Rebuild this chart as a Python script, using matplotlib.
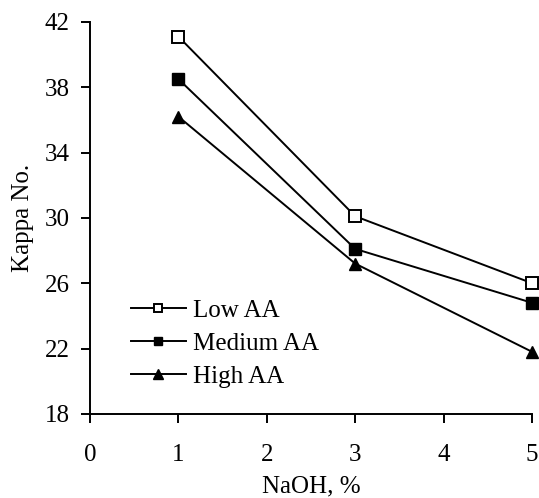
import matplotlib
matplotlib.use("Agg")
import matplotlib.pyplot as plt

naoh = [1, 3, 5]
low_aa = [41.1, 30.1, 26.0]
medium_aa = [38.5, 28.1, 24.8]
high_aa = [36.2, 27.2, 21.8]
labels = ["Low AA", "Medium AA", "High AA"]
xticks = [0, 1, 2, 3, 4, 5]
yticks = [18, 22, 26, 30, 34, 38, 42]

plt.rcParams['font.family'] = ['Liberation Serif', 'DejaVu Serif']
fig = plt.figure(figsize=(5.39, 4.98), dpi=100)
ax = fig.add_axes([0.167, 0.169, 0.82, 0.787])

lw = 1.4
ms = 8
ax.plot(naoh, low_aa, color='black', lw=lw, marker='s', ms=ms, mfc='white', mec='black', mew=1.4, label=labels[0], clip_on=False)
ax.plot(naoh, medium_aa, color='black', lw=lw, marker='s', ms=ms, mfc='black', mec='black', label=labels[1], clip_on=False)
ax.plot(naoh, high_aa, color='black', lw=lw, marker='^', ms=ms + 1, mfc='black', mec='black', label=labels[2], clip_on=False)

ax.set_xlim(0, 5)
ax.set_ylim(18, 42)
ax.set_xticks(xticks)
ax.set_yticks(yticks)
ax.spines['top'].set_visible(False)
ax.spines['right'].set_visible(False)
for s in ['left', 'bottom']:
    ax.spines[s].set_linewidth(1.4)
ax.tick_params(axis='both', labelsize=18, width=1.4, length=6.5, direction='out')
ax.tick_params(axis='x', pad=15)
ax.tick_params(axis='y', pad=8)
ax.set_xlabel("NaOH, %", fontsize=18, labelpad=7)
ax.set_ylabel("Kappa No.", fontsize=18, labelpad=8)

leg = ax.legend(loc='lower left', bbox_to_anchor=(0.07, 0.04), frameon=False, fontsize=18,
                handlelength=2.2, handletextpad=0.3, labelspacing=0.42, borderaxespad=0,
                markerscale=0.8)

fig.savefig("out.png", dpi=100)
